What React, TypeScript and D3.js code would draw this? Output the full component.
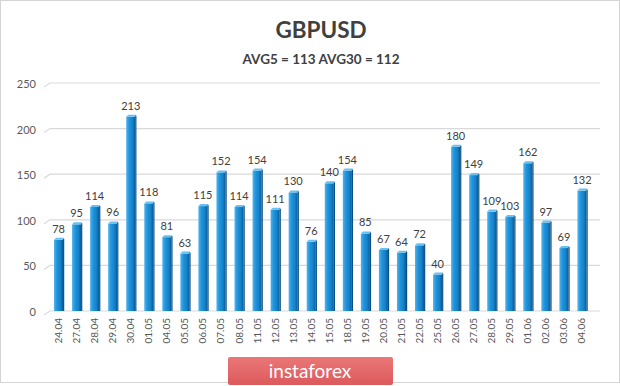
import React from "react";
import * as d3 from "d3";

const categories = ["24.04","27.04","28.04","29.04","30.04","01.05","04.05","05.05","06.05","07.05","08.05","11.05","12.05","13.05","14.05","15.05","18.05","19.05","20.05","21.05","22.05","25.05","26.05","27.05","28.05","29.05","01.06","02.06","03.06","04.06"];
const values = [78,95,114,96,213,118,81,63,115,152,114,154,111,130,76,140,154,85,67,64,72,40,180,149,109,103,162,97,69,132];
const yTicks = [0,50,100,150,200,250];
const title = "GBPUSD";
const subtitle = "AVG5 = 113 AVG30 = 112";
const logoText = "instaforex";

const W = 620, H = 386;
const FONT = "Lato, 'Open Sans', 'Liberation Sans', sans-serif";

export default function App() {
  const x = d3.scaleBand<string>().domain(categories).range([49.5, 591]).paddingInner(0.5).paddingOuter(0.25);
  const y = d3.scaleLinear().domain([0, 250]).range([311, 83]);
  const bw = x.bandwidth();
  return (
    <svg width={W} height={H} style={{ position: "absolute", left: 0, top: 0, background: "#fff" }}>
      <defs>
        <linearGradient id="barG" x1="0" x2="1" y1="0" y2="0">
          <stop offset="0" stopColor="#4fb3ef" />
          <stop offset="0.35" stopColor="#1f93dc" />
          <stop offset="0.7" stopColor="#1582c9" />
          <stop offset="1" stopColor="#0b5a96" />
        </linearGradient>
        <linearGradient id="logoG" x1="0" x2="0" y1="0" y2="1">
          <stop offset="0" stopColor="#ea7777" />
          <stop offset="1" stopColor="#dc5a5c" />
        </linearGradient>
      </defs>
      <rect x={0.5} y={0.5} width={W - 1} height={H - 4} fill="#fff" stroke="#d4d4d4" />
      <text x={321} y={38} textAnchor="middle" fontFamily={FONT} fontWeight={700} fontSize={22.5} fill="#404040">{title}</text>
      <text x={321} y={64} textAnchor="middle" fontFamily={FONT} fontWeight={700} fontSize={13.5} fill="#404040">{subtitle}</text>
      {yTicks.map(t => (
        <g key={t}>
          <path d={`M44,${y(t) + 4}L50,${y(t)}L600,${y(t)}`} fill="none" stroke="#d9d9d9" strokeWidth={1.2} />
          <text x={36} y={y(t) + 5} textAnchor="end" fontFamily={FONT} fontSize={11} fill="#595959">{t}</text>
        </g>
      ))}
      {categories.map((c, i) => {
        const x0 = x(c)!;
        const top = y(values[i]);
        return (
          <g key={c}>
            <rect x={x0} y={top} width={bw} height={y(0) - top} fill="url(#barG)" />
            <path d={`M${x0},${top}L${x0 + 2},${top - 2}L${x0 + bw + 1},${top - 2}L${x0 + bw},${top}Z`} fill="#6cc0f0" />
            <rect x={x0 + bw} y={top - 1} width={1.2} height={y(0) - top + 1} fill="#0a4f85" />
            <text x={x0 + bw / 2} y={top - 7} textAnchor="middle" fontFamily={FONT} fontSize={11} fill="#404040">{values[i]}</text>
            <text transform={`translate(${x0 + bw / 2 + 3.5},318) rotate(-90)`} textAnchor="end" fontFamily={FONT} fontSize={10} fill="#555">{c}</text>
          </g>
        );
      })}
      <rect x={228} y={357} width={165} height={28} rx={2} fill="url(#logoG)" />
      <text x={310} y={378} textAnchor="middle" fontFamily={FONT} fontSize={19} fill="#fff">{logoText}</text>
    </svg>
  );
}
